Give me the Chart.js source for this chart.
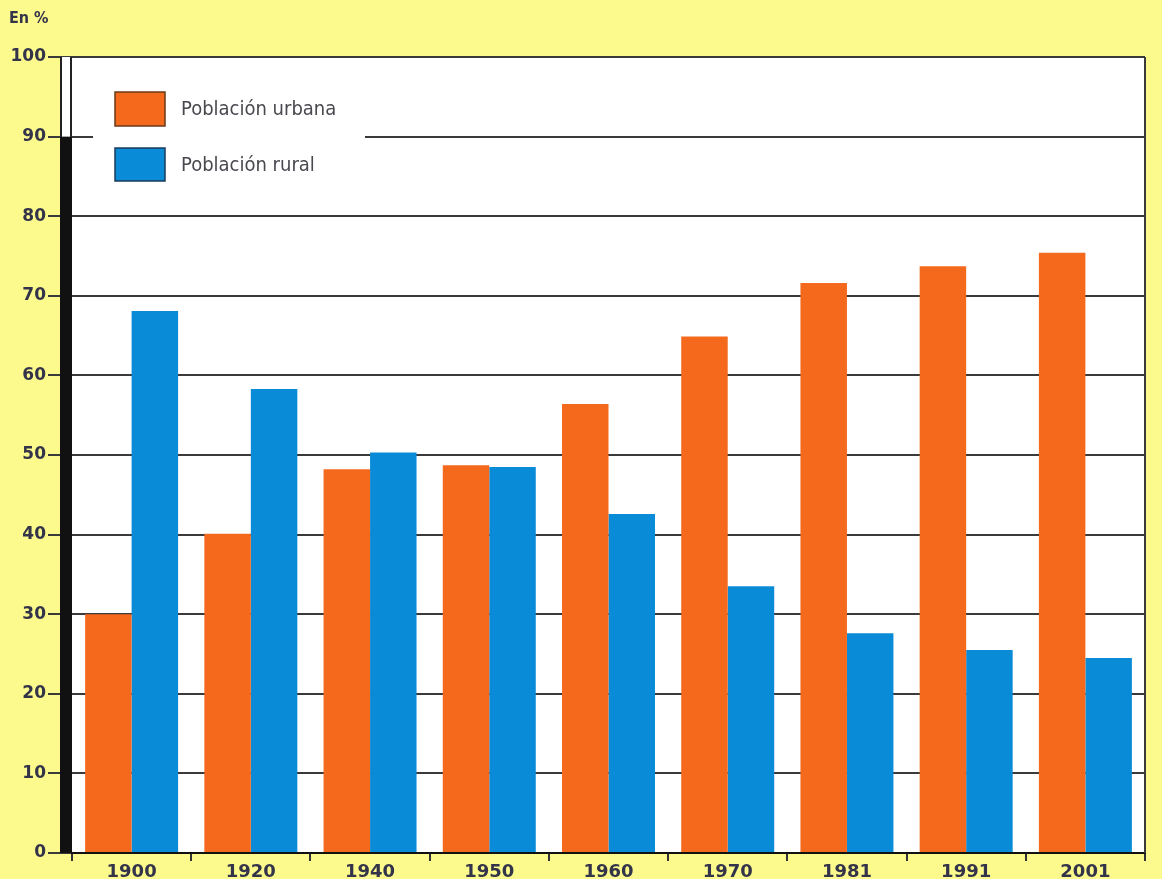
<!DOCTYPE html>
<html>
<head>
<meta charset="utf-8">
<script src="https://cdn.jsdelivr.net/npm/chart.js@4"></script>
<style>
  html, body { margin: 0; padding: 0; background: #fcfa8c; }
  canvas { display: block; }
</style>
</head>
<body>
<canvas id="chart" width="1162" height="879"></canvas>
<script>
const years = ['1900', '1920', '1940', '1950', '1960', '1970', '1981', '1991', '2001'];
const urbana = [30.0, 40.1, 48.2, 48.7, 56.4, 64.9, 71.6, 73.7, 75.4];
const rural = [68.1, 58.3, 50.3, 48.5, 42.6, 33.5, 27.6, 25.5, 24.5];
const seriesNames = ['Población urbana', 'Población rural'];
const unitLabel = 'En %';

const textColor = '#33334a';
const orange = '#f4691c';
const blue = '#0a8bd8';

// paints the yellow page, white plot, thick left bar, legend box
const framePlugin = {
    id: 'frame',
    beforeDraw(chart) {
        const c = chart.ctx;
        const a = chart.chartArea;
        c.save();
        c.fillStyle = '#fcfa8c';
        c.fillRect(0, 0, chart.width, chart.height);
        c.fillStyle = '#ffffff';
        c.fillRect(a.left, a.top, a.right - a.left, a.bottom - a.top);
        c.restore();
    },
    afterDatasetsDraw(chart) {
        const c = chart.ctx;
        const a = chart.chartArea;
        const y = chart.scales.y;
        c.save();
        // right border
        c.strokeStyle = '#3a3a3a';
        c.lineWidth = 2;
        c.beginPath();
        c.moveTo(a.right, a.top);
        c.lineTo(a.right, a.bottom);
        c.stroke();
        // left bar: outlined from 100 to 90, solid black below
        const y90 = y.getPixelForValue(90);
        c.fillStyle = '#111111';
        c.fillRect(a.left - 12, y90, 12, a.bottom - y90);
        c.fillStyle = '#ffffff';
        c.fillRect(a.left - 10, a.top, 8, y90 - a.top);
        c.strokeStyle = '#222222';
        c.lineWidth = 2;
        c.beginPath();
        c.moveTo(a.left - 11, a.top);
        c.lineTo(a.left - 11, y90);
        c.moveTo(a.left - 1, a.top);
        c.lineTo(a.left - 1, y90);
        c.stroke();

        // legend
        c.fillStyle = '#ffffff';
        c.fillRect(93, 76, 272, 124);
        const ds = chart.data.datasets;
        const boxes = [[115, 92, 34], [115, 148, 33]];
        ds.forEach((d, i) => {
            const [bx, by, bh] = boxes[i];
            c.fillStyle = d.backgroundColor;
            c.fillRect(bx, by, 50, bh);
            c.strokeStyle = i === 0 ? '#6a3a1a' : '#1a3a5a';
            c.lineWidth = 1.5;
            c.strokeRect(bx, by, 50, bh);
            c.fillStyle = '#48484f';
            c.font = '20px "DejaVu Sans Condensed", "DejaVu Sans", sans-serif';
            c.textBaseline = 'middle';
            c.textAlign = 'left';
            c.fillText(d.label, 181, by + bh / 2 + 1);
        });

        // unit label
        c.fillStyle = textColor;
        c.font = 'bold 16px "DejaVu Sans Condensed", "DejaVu Sans", sans-serif';
        c.textBaseline = 'middle';
        c.fillText(unitLabel, 9, 19);
        c.restore();
    }
};

const ctx = document.getElementById('chart').getContext('2d');
const chart = new Chart(ctx, {
    type: 'bar',
    data: {
        labels: years,
        datasets: [{
            label: seriesNames[0],
            data: urbana,
            backgroundColor: orange,
            borderWidth: 0,
            categoryPercentage: 0.78,
            barPercentage: 1.0
        }, {
            label: seriesNames[1],
            data: rural,
            backgroundColor: blue,
            borderWidth: 0,
            categoryPercentage: 0.78,
            barPercentage: 1.0
        }]
    },
    options: {
        responsive: false,
        animation: false,
        layout: { padding: { top: 57, right: 17, left: 0, bottom: 0 } },
        plugins: {
            legend: { display: false },
            title: { display: false },
            tooltip: { enabled: false }
        },
        scales: {
            x: {
                afterFit(scale) { scale.height = 26; },
                grid: {
                    offset: true,
                    drawOnChartArea: false,
                    drawTicks: true,
                    tickLength: 8,
                    color: '#333333',
                    lineWidth: 2
                },
                border: { display: true, color: '#111111', width: 2 },
                ticks: {
                    color: textColor,
                    padding: 1,
                    font: { family: 'DejaVu Sans', size: 18, weight: 'bold' }
                }
            },
            y: {
                min: 0,
                max: 100,
                afterFit(scale) { scale.width = 72; },
                grid: {
                    color: '#3a3a3a',
                    lineWidth: 2,
                    tickLength: 24
                },
                border: { display: false },
                ticks: {
                    stepSize: 10,
                    color: textColor,
                    padding: 2,
                    font: { family: 'DejaVu Sans', size: 17, weight: 'bold' }
                }
            }
        }
    },
    plugins: [framePlugin]
});
</script>
</body>
</html>
